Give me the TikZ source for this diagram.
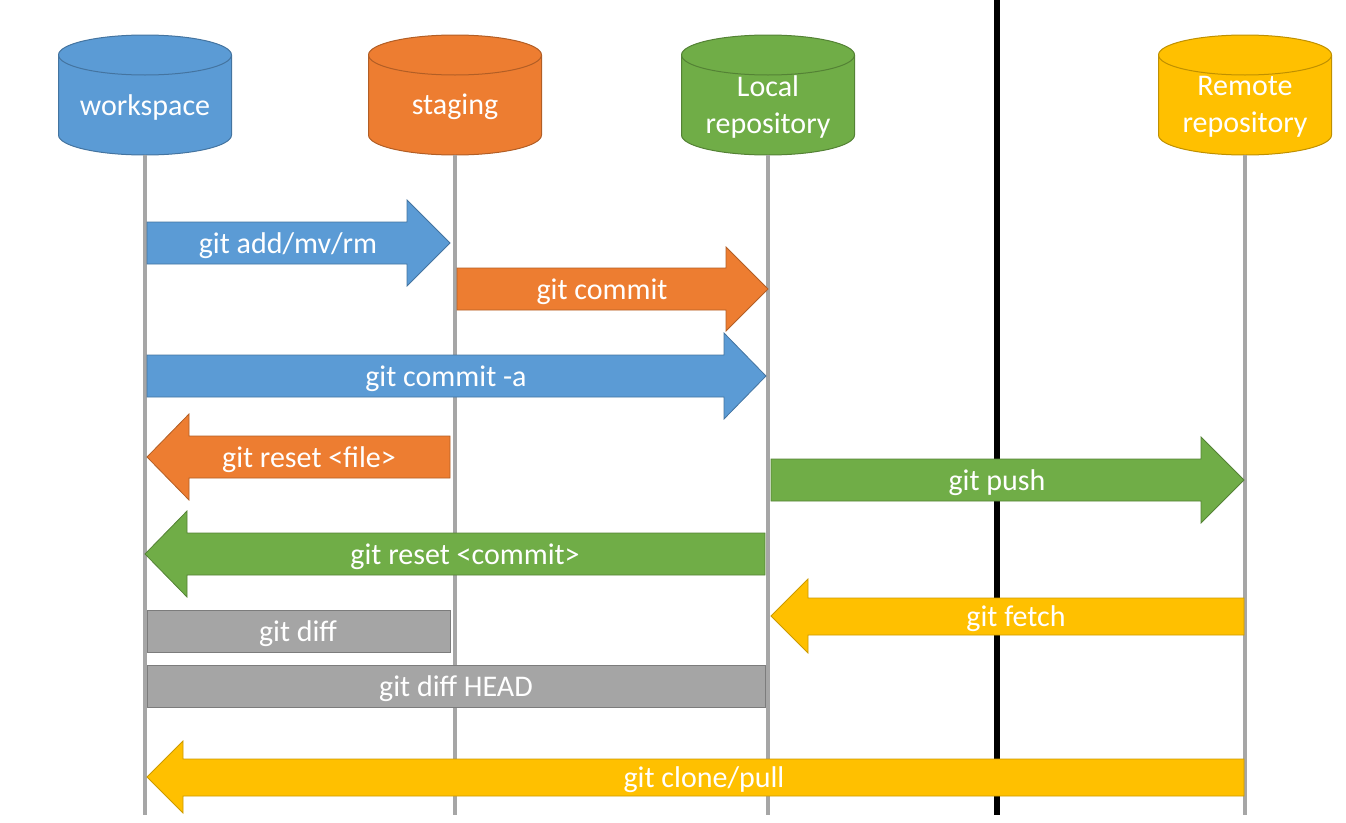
\documentclass[tikz,border=0pt]{standalone}
\usepackage{fontspec}
\setmainfont{Carlito}
\usepackage{tikz}
\usetikzlibrary{positioning}

\definecolor{wsblue}{HTML}{5B9BD5}
\definecolor{stgorange}{HTML}{ED7D31}
\definecolor{locgreen}{HTML}{70AD47}
\definecolor{remyellow}{HTML}{FFC000}
\definecolor{diffgray}{HTML}{A5A5A5}
\definecolor{lifegray}{HTML}{A6A6A6}

\tikzset{
	cyl/.style={line width=1pt},
	dbname/.style={text=white, font=\fontsize{30}{37}\selectfont, align=center,
		minimum width=173pt, minimum height=96pt, inner sep=0pt},
	life/.style={draw=lifegray, line width=4.5pt},
	cmd/.style={text=white, font=\fontsize{30}{37}\selectfont, inner sep=0pt, yshift=-2.5pt},
	bluearr/.style={fill=wsblue, draw=wsblue!75!black, line width=0.8pt},
	orangearr/.style={fill=stgorange, draw=stgorange!75!black, line width=0.8pt},
	greenarr/.style={fill=locgreen, draw=locgreen!75!black, line width=0.8pt},
	yellowarr/.style={fill=remyellow, draw=remyellow!80!black, line width=0.8pt},
	grayarr/.style={fill=diffgray, draw=diffgray!75!black, line width=0.8pt}
}

\begin{document}
\begin{tikzpicture}[x=1pt, y=-1pt]
		\useasboundingbox (0,0) rectangle (1346,822);
		%\draw [help lines, step=50] (0,0) grid (1346,822);
		%Cilindri
		\foreach \x/\c in {145/wsblue, 455/stgorange, 768/locgreen, 1245/remyellow} {
			\draw [cyl, fill=\c, draw=\c!75!black] (\x-86.5,55) -- (\x-86.5,135)
				arc [start angle=180, end angle=360, x radius=86.5pt, y radius=20pt]
				-- (\x+86.5,55)
				arc [start angle=0, end angle=180, x radius=86.5pt, y radius=20pt] -- cycle;
			\draw [cyl, draw=\c!75!black] (\x-86.5,55)
				arc [start angle=180, end angle=360, x radius=86.5pt, y radius=20pt];
		}
		\node [dbname] (ws) at (145,107) {workspace};
		\node [dbname] (stg) at (455,107) {staging};
		\node [dbname] (loc) at (768,107) {Local\\repository};
		\node [dbname] (rem) at (1245,107) {Remote\\repository};
		%Linee
		\coordinate (bottom) at (0,815);
		\coordinate (split) at (997,0);
		\draw [life] (ws.south) -- (ws.south |- bottom);
		\draw [life] (stg.south) -- (stg.south |- bottom);
		\draw [life] (loc.south) -- (loc.south |- bottom);
		\draw [life] (rem.south) -- (rem.south |- bottom);
		\draw [line width=6pt] (split) -- (split |- bottom);
		%Verso destra
		\draw [bluearr] (147,222) -- (407,222) -- (407,200) -- (450,243) -- (407,286) -- (407,264) -- (147,264) -- cycle;
		\node [cmd] (add) at (288,243) {git add/mv/rm};
		\draw [orangearr] (457,268) -- (726,268) -- (726,247) -- (768,289) -- (726,331) -- (726,310) -- (457,310) -- cycle;
		\node [cmd] (commit) at (602,289) {git commit};
		\draw [bluearr] (147,355) -- (724,355) -- (724,333) -- (766,376) -- (724,419) -- (724,397) -- (147,397) -- cycle;
		\node [cmd] (commita) at (446,376) {git commit -a};
		\draw [greenarr] (771,459) -- (1201,459) -- (1201,437) -- (1244,480) -- (1201,523) -- (1201,501) -- (771,501) -- cycle;
		\node [cmd] (push) at (997,480) {git push};
		%Verso sinistra
		\draw [orangearr] (450,436) -- (189,436) -- (189,414) -- (147,457) -- (189,500) -- (189,478) -- (450,478) -- cycle;
		\node [cmd] (resetfile) at (309,457) {git reset <file>};
		\draw [greenarr] (765,533) -- (187,533) -- (187,511) -- (145,554) -- (187,597) -- (187,575) -- (765,575) -- cycle;
		\node [cmd] (resetcommit) at (465,554) {git reset <commit>};
		\draw [yellowarr] (1244,598) -- (808,598) -- (808,579) -- (771,616) -- (808,653) -- (808,635) -- (1244,635) -- cycle;
		\node [cmd] (fetch) at (1016,616) {git fetch};
		\draw [yellowarr] (1244,759) -- (183,759) -- (183,741) -- (147,777) -- (183,813) -- (183,796) -- (1244,796) -- cycle;
		\node [cmd] (clone) at (704,777) {git clone/pull};
		%Diff
		\draw [grayarr] (147,610) rectangle (450,652);
		\node [cmd] (diff) at (298,631) {git diff};
		\draw [grayarr] (147,665) rectangle (765,707);
		\node [cmd] (diffhead) at (456,686) {git diff HEAD};
	\end{tikzpicture}
\end{document}
